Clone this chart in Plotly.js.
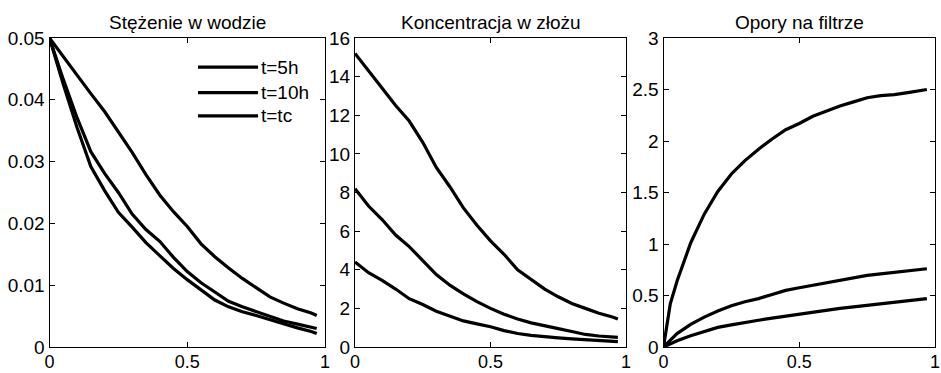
<!DOCTYPE html>
<html>
<head>
<meta charset="utf-8">
<script src="https://cdn.plot.ly/plotly-3.0.1.min.js"></script>
<style>html,body{margin:0;padding:0;background:#fff;}#chart{width:941px;height:373px;}</style>
</head>
<body>
<div id="chart"></div>
<script>
// x grids (dimensionless bed depth)
const xGrid = [0,0.05,0.1,0.15,0.2,0.25,0.3,0.35,0.4,0.45,0.5,0.55,0.6,0.65,0.7,0.75,0.8,0.85,0.9,0.95,0.97];
const xGridRes = [0,0.025,0.05,0.1,0.15,0.2,0.25,0.3,0.35,0.4,0.45,0.5,0.55,0.6,0.65,0.7,0.75,0.8,0.85,0.9,0.95,0.97];

const seriesNames = ['t=5h','t=10h','t=tc'];
const panelTitles = ['Stężenie w wodzie','Koncentracja w złożu','Opory na filtrze'];

// Panel 1: Stężenie w wodzie
const water5h  = [0.05,0.0425,0.0355,0.0292,0.0253,0.0218,0.0194,0.0169,0.0148,0.0127,0.0109,0.0092,0.0076,0.0065,0.0057,0.0051,0.0044,0.0037,0.0031,0.0025,0.0022];
const water10h = [0.05,0.0433,0.0371,0.0316,0.0281,0.0250,0.0215,0.0190,0.0171,0.0145,0.0122,0.0104,0.0089,0.0074,0.0065,0.0057,0.0049,0.0042,0.0037,0.0032,0.0030];
const waterTc  = [0.05,0.0470,0.0438,0.0410,0.0381,0.0349,0.0315,0.0279,0.0246,0.0219,0.0195,0.0167,0.0146,0.0128,0.0111,0.0096,0.0081,0.0071,0.0062,0.0055,0.0051];

// Panel 2: Koncentracja w złożu
const bed5h  = [4.4,3.85,3.45,3.0,2.5,2.2,1.85,1.6,1.35,1.2,1.05,0.85,0.7,0.6,0.52,0.47,0.42,0.37,0.32,0.3,0.28];
const bed10h = [8.2,7.3,6.6,5.8,5.2,4.5,3.75,3.2,2.75,2.35,2.0,1.7,1.45,1.25,1.08,0.95,0.8,0.65,0.57,0.52,0.5];
const bedTc  = [15.2,14.3,13.4,12.5,11.7,10.6,9.3,8.3,7.2,6.3,5.5,4.8,4.0,3.5,3.0,2.6,2.25,2.0,1.75,1.55,1.45];

// Panel 3: Opory na filtrze
const res5h  = [0,0.03,0.06,0.11,0.15,0.19,0.215,0.24,0.26,0.28,0.30,0.32,0.34,0.355,0.375,0.39,0.405,0.42,0.435,0.45,0.465,0.47];
const res10h = [0,0.07,0.13,0.22,0.29,0.35,0.40,0.44,0.47,0.51,0.55,0.575,0.60,0.625,0.65,0.675,0.695,0.71,0.725,0.74,0.755,0.76];
const resTc  = [0,0.42,0.64,1.01,1.29,1.51,1.68,1.81,1.92,2.02,2.11,2.17,2.24,2.29,2.34,2.38,2.42,2.44,2.45,2.47,2.49,2.50];

const xTicks = [0,0.5,1];
const yTicks1 = [0,0.01,0.02,0.03,0.04,0.05];
const yTicks2 = [0,2,4,6,8,10,12,14,16];
const yTicks3 = [0,0.5,1,1.5,2,2.5,3];

const FONT = 'Arial, "Liberation Sans", sans-serif';
const TICK_SIZE = 19, XTICK_SIZE = 18, TITLE_SIZE = 19, LEGEND_SIZE = 19;
const lineStyle = {color:'#000', width:3.2};

const panels = [
  {x:xGrid, ys:[water5h,water10h,waterTc], ax:'', yt:yTicks1, yr:[0,0.05]},
  {x:xGrid, ys:[bed5h,bed10h,bedTc], ax:'2', yt:yTicks2, yr:[0,16]},
  {x:xGridRes, ys:[res5h,res10h,resTc], ax:'3', yt:yTicks3, yr:[0,3]}
];

const data = [];
panels.forEach(p => {
  p.ys.forEach((y, i) => {
    data.push({x:p.x, y:y, type:'scatter', mode:'lines', name:seriesNames[i],
      xaxis:'x'+p.ax, yaxis:'y'+p.ax, line:lineStyle, line_shape:'linear', showlegend:false, hoverinfo:'skip'});
  });
});

const W = 941, H = 373;
const xDomains = [[49.5/W, 325/W],[355/W, 626/W],[663.5/W, 935/W]];
const yDomain = [(H-347)/H, (H-38)/H];

function axisBase(size) {
  return {showline:true, linecolor:'#000', linewidth:1, mirror:'ticks', ticks:'inside', ticklen:5,
    tickwidth:1, tickcolor:'#000', showgrid:false, zeroline:false,
    tickfont:{family:FONT, size:size, color:'#000'}, fixedrange:true};
}

const layout = {
  width:W, height:H, margin:{l:0,r:0,t:0,b:0}, paper_bgcolor:'#fff', plot_bgcolor:'#fff',
  showlegend:false, font:{family:FONT, color:'#000'},
  annotations:[], shapes:[]
};

panels.forEach((p, k) => {
  const xa = Object.assign(axisBase(XTICK_SIZE), {domain:xDomains[k], range:[0,1], tickvals:xTicks,
    ticktext:xTicks.map(String), anchor:'y'+p.ax, ticklabelstandoff:-2});
  const ya = Object.assign(axisBase(TICK_SIZE), {domain:yDomain, range:p.yr, tickvals:p.yt,
    ticktext:p.yt.map(String), anchor:'x'+p.ax});
  layout['xaxis'+p.ax] = xa;
  layout['yaxis'+p.ax] = ya;
  layout.annotations.push({text:panelTitles[k], xref:'paper', yref:'paper',
    x:(xDomains[k][0]+xDomains[k][1])/2, y:yDomain[1], xanchor:'center', yanchor:'bottom', yshift:3,
    showarrow:false, font:{family:FONT, size:TITLE_SIZE, color:'#000'}});
});

// Legend drawn inside panel 1 (top-right)
const legendRows = [0.906, 0.823, 0.748];
seriesNames.forEach((n, i) => {
  layout.shapes.push({type:'line', xref:'x domain', yref:'y domain', x0:0.539, x1:0.757,
    y0:legendRows[i], y1:legendRows[i], line:{color:'#000', width:3.2}});
  layout.annotations.push({text:n, xref:'x domain', yref:'y domain', x:0.762, y:legendRows[i],
    xanchor:'left', yanchor:'middle', showarrow:false, font:{family:FONT, size:LEGEND_SIZE, color:'#000'}});
});

Plotly.newPlot('chart', data, layout, {displayModeBar:false, staticPlot:true});
</script>
</body>
</html>
